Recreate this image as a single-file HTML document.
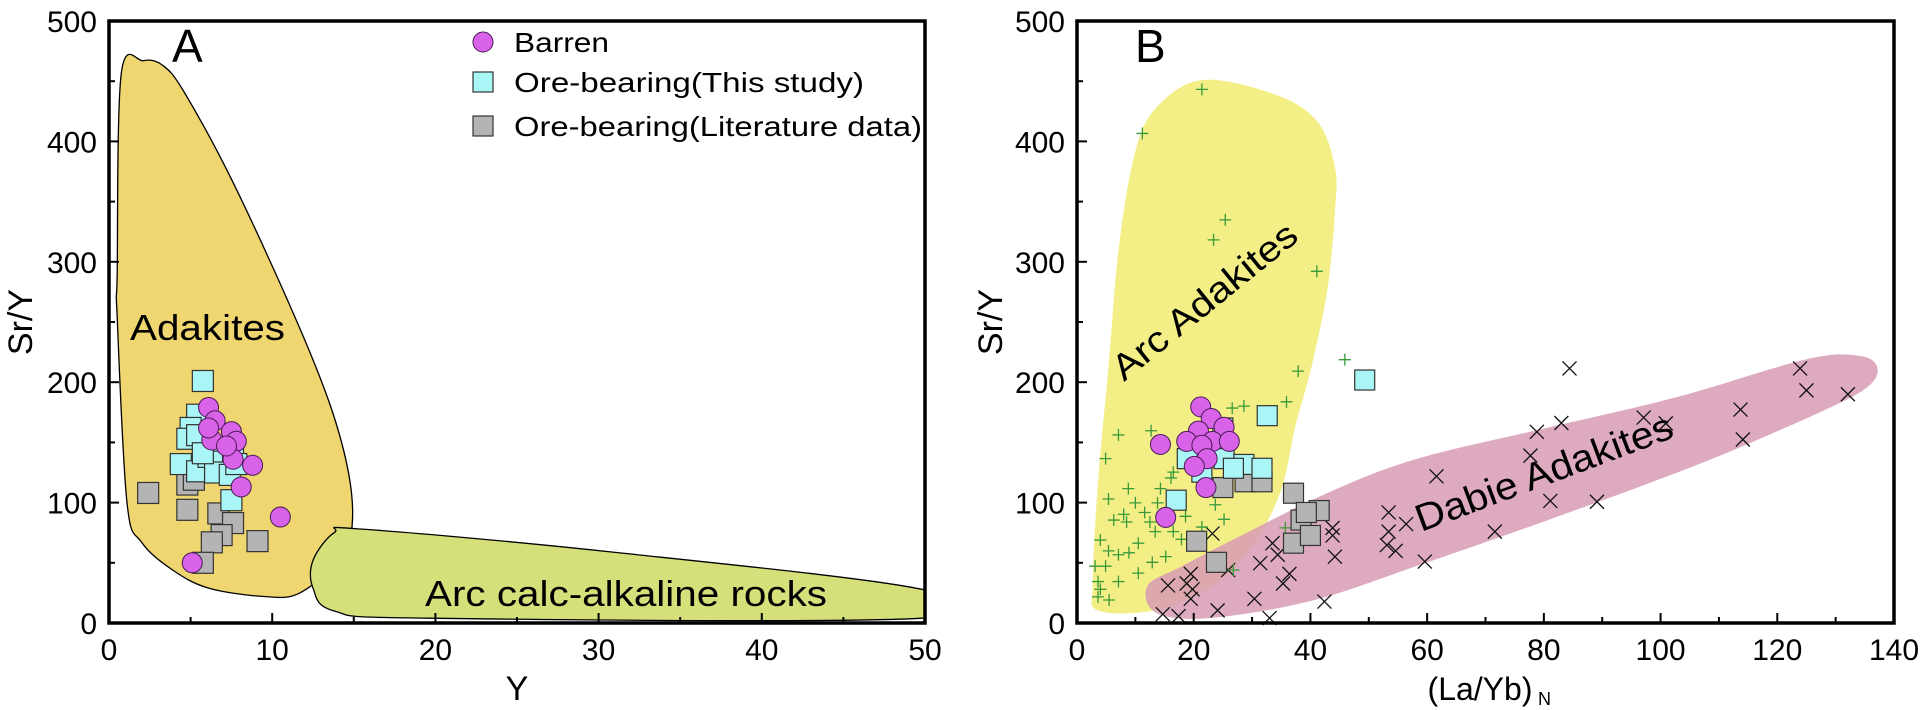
<!DOCTYPE html>
<html><head><meta charset="utf-8"><style>
html,body{margin:0;padding:0;background:#fff;}
svg{display:block;font-family:"Liberation Sans",sans-serif;}
</style></head><body>
<svg id="fig" width="1923" height="710" viewBox="0 0 1923 710" xmlns="http://www.w3.org/2000/svg">
<g id="pA"></g>
<g id="pB"></g>
</svg>
<script>
// ---------- Panel A data ----------
const aXTicks = [0,10,20,30,40,50];
const aYTicks = [0,100,200,300,400,500];
const aBarrenX = [6.1,6.5,7.5,7.8,6.3,7.6,8.8,8.1,10.5,5.1,6.1,7.2];
const aBarrenY = [179,168,159,151,152,136,131,113,88,50,162,147];
const aCyanX = [5.75,5.4,5.0,4.8,5.4,4.4,5.4,6.1,6.9,7.6,6.5,7.4,7.5,5.75,7.8];
const aCyanY = [201,173,162,153,156,132,126,138,134,141,125,123,102,141,132];
const aGrayX = [2.4,4.8,4.8,6.7,7.6,6.9,6.3,9.1,5.75,5.2];
const aGrayY = [108,115,94,91,83,73,67,68,50,119];
const aAdakX = [0.75,2.1,3.3,4.6,7.6,11.4,13.6,14.7,14.9,14.3,11.7,9.5,6.1,3.9,2.0,1.1,0.5,0.5];
const aAdakY = [456,467,463,441,366,254,179,123,82,55,25,22,29,44,67,100,254,291];
const aArcX = [13.8,15.5,30.8,49.8,49.8,19.6,13.8,12.5,12.5];
const aArcY = [75,78,59,28,4,4,10,29,52];
// ---------- Panel B data ----------
const bXTicks = [0,20,40,60,80,100,120,140];
const bYTicks = [0,100,200,300,400,500];
const bBarrenX = [21.2,23.0,25.2,20.8,18.8,14.3,23.2,26.1,21.4,22.3,20.1,22.1,15.2];
const bBarrenY = [179.5,169.9,162.6,159.4,150.8,148.3,150.8,150.8,147.6,136.5,130.1,112.5,87.7];
const bCyanX = [49.3,32.6,25.0,18.9,25.2,28.6,26.8,31.7,21.4,17.0];
const bCyanY = [201.8,172.2,162.0,136.5,136.5,131.7,128.5,128.5,125.3,102.0];
const bGrayX = [20.5,23.9,25.0,28.8,31.7,37.1,41.5,38.4,37.1,40.0,39.3];
const bGrayY = [67.9,50.4,112.5,117.3,117.3,107.8,93.4,85.5,66.3,72.7,91.8];
const bPlusX = [21.4,11.2,25.4,23.4,41.1,45.9,37.9,35.9,28.6,26.6,12.7,7.1,4.9,16.1,8.8,14.3,5.4,10.0,13.8,23.7,8.0,11.6,6.3,8.5,12.5,25.2,18.6,21.4,13.4,16.5,4.0,10.5,5.4,7.1,8.9,15.2,4.9,3.1,12.9,10.5,7.1,3.6,4.0,3.6,5.5,26.8,35.7,16.5,17.9];
const bPlusY = [443.2,406.6,334.8,318.2,292.1,218.7,209.2,183.7,180.1,178.5,159.7,156.2,136.5,120.5,111.6,111.6,103.0,99.8,99.8,98.2,90.2,91.8,85.5,83.9,83.9,86.1,88.6,79.7,75.9,75.9,68.9,66.3,59.9,56.7,58.3,55.1,47.2,47.2,50.4,41.4,34.4,34.4,28.0,21.7,19.1,44.0,79.0,125.3,69.5];
const bCrossX = [84.4,123.9,125.0,132.1,113.7,97.1,100.9,83.0,78.8,77.7,114.1,61.6,81.1,89.1,53.4,56.4,53.4,71.6,43.8,53.1,54.6,44.2,59.6,33.5,34.4,31.4,36.4,35.3,25.9,23.2,19.5,18.8,19.8,15.6,19.5,30.4,42.4,24.1,17.4,14.7,33.0,43.8];
const bCrossY = [211.4,211.4,193.2,190.0,177.3,170.6,165.8,166.1,158.8,139.0,152.4,121.8,101.4,100.7,91.8,82.2,75.9,75.9,72.7,64.7,59.9,55.1,51.0,66.3,56.7,49.7,40.8,32.8,44.0,74.3,40.8,32.8,28.0,31.2,20.1,20.1,17.8,10.5,5.7,7.3,4.1,79.0];
const bArcX = [21.4,33.9,41.1,44.2,44.2,42.9,40.2,37.5,34.8,29.5,22.3,13.4,3.6,2.7,3.6,5.4,7.1,9.8,13.4];
const bArcY = [451,439,417,379,341,277,213,165,108,60,28,10.5,10.5,34,117,213,309,388,427];
const bDabX = [133.9,137.1,135.7,128.6,107.1,80.4,58.0,40.2,22.3,13.4,12.1,17.9,29.5,42.9,58.0,80.4,102.7,125];
const bDabY = [222,213,197,178,133,85,47,18.4,4,9,31,47,76,108,136,162,187.5,219];

const NS = "http://www.w3.org/2000/svg";
function mk(parent, tag, attrs, text){
  const e = document.createElementNS(NS, tag);
  for (const k in attrs) e.setAttribute(k, attrs[k]);
  if (text !== undefined) e.textContent = text;
  parent.appendChild(e);
  return e;
}
function smoothPath(pts){
  const n = pts.length; let d = "M"+pts[0][0].toFixed(1)+","+pts[0][1].toFixed(1);
  for (let i=0;i<n;i++){
    const p0=pts[(i-1+n)%n], p1=pts[i], p2=pts[(i+1)%n], p3=pts[(i+2)%n];
    const c1=[p1[0]+(p2[0]-p0[0])/6, p1[1]+(p2[1]-p0[1])/6];
    const c2=[p2[0]-(p3[0]-p1[0])/6, p2[1]-(p3[1]-p1[1])/6];
    d+=" C"+c1[0].toFixed(1)+","+c1[1].toFixed(1)+" "+c2[0].toFixed(1)+","+c2[1].toFixed(1)+" "+p2[0].toFixed(1)+","+p2[1].toFixed(1);
  }
  return d+"Z";
}

function axes(g, L, R, T, B, xMin, xMax, yMax, xT, yT, xMinor, yMinor){
  const sx = v => L + (v - xMin)/(xMax - xMin)*(R - L);
  const sy = v => B - v/yMax*(B - T);
  return {sx, sy, draw(){
    const ax = mk(g,"g",{});
    
    
    for (let v=xMin; v<=xMax+1e-9; v+=xMinor){
      const major = xT.some(t=>Math.abs(t-v)<1e-6);
      const t = mk(ax,"line",{x1:sx(v),x2:sx(v),y1:B,y2:B-(major?10:6),stroke:"#000","stroke-width":2});
      
      
    }
    for (let v=0; v<=yMax+1e-9; v+=yMinor){
      const major = yT.some(t=>Math.abs(t-v)<1e-6);
      const t = mk(ax,"line",{x1:L,x2:L+(major?10:6),y1:sy(v),y2:sy(v),stroke:"#000","stroke-width":2});
      
      
    }
    xT.forEach(v=>{
      const t = mk(ax,"text",{x:sx(v),y:B+37,"font-size":30,"text-anchor":"middle"}, String(v));
      
      
    });
    yT.forEach(v=>{
      const t = mk(ax,"text",{x:L-12,y:sy(v)+11,"font-size":30,"text-anchor":"end"}, String(v));
      
      
    });
    const fr = mk(ax,"rect",{x:L,y:T,width:R-L,height:B-T,fill:"none",stroke:"#000","stroke-width":3.5});
    
    
  }};
}
function circles(g, xs, ys, sx, sy, name){
  xs.forEach((x,i)=>{
    const c = mk(g,"circle",{cx:sx(x),cy:sy(ys[i]),r:10,fill:"#d862e8",stroke:"#4a1a55","stroke-width":1});
    
    
  });
}
function squares(g, xs, ys, sx, sy, fill, name, s){
  xs.forEach((x,i)=>{
    const r = mk(g,"rect",{x:sx(x)-s/2,y:sy(ys[i])-s/2,width:s,height:s,fill:fill,stroke:"#333","stroke-width":1.2});
    
    
  });
}

// ---------- Panel A ----------
(function(){
  const g = document.getElementById("pA");
  const A = axes(g,109,925,21,623,0,50,500,aXTicks,aYTicks,5,50);
  const {sx, sy} = A;
  const clip = mk(g,"clipPath",{id:"clipA"}); mk(clip,"rect",{x:109,y:21,width:816,height:602});
  const reg = mk(g,"g",{"clip-path":"url(#clipA)"});
  const ad = mk(reg,"path",{d:smoothPath(aAdakX.map((x,i)=>[sx(x),sy(aAdakY[i])])),fill:"#efd670",stroke:"#000","stroke-width":1.3});
  
  
  const ar = mk(reg,"path",{d:smoothPath(aArcX.map((x,i)=>[sx(x),sy(aArcY[i])])),fill:"#d5e07a",stroke:"#000","stroke-width":1.3});
  
  
  const t1 = mk(g,"text",{x:130,y:340,"font-size":36,textLength:155,lengthAdjust:"spacingAndGlyphs"},"Adakites");
  
  
  const t2 = mk(g,"text",{x:425,y:606,"font-size":36,textLength:402,lengthAdjust:"spacingAndGlyphs"},"Arc calc-alkaline rocks");
  
  
  squares(g,aGrayX,aGrayY,sx,sy,"#b4b4b4","ore-bearing-literature-point",21);
  squares(g,aCyanX,aCyanY,sx,sy,"#aaf5f5","ore-bearing-this-study-point",21);
  circles(g,aBarrenX,aBarrenY,sx,sy,"barren-point");
  A.draw();
  const pl = mk(g,"text",{x:172,y:62,"font-size":46},"A");
  
  
  const xt = mk(g,"text",{x:517,y:700,"font-size":34,"text-anchor":"middle"},"Y");
  
  
  const yt = mk(g,"text",{x:0,y:0,"font-size":34,"text-anchor":"middle",transform:"translate(32,322) rotate(-90)"},"Sr/Y");
  
  
  // legend
  const lg = mk(g,"g",{});
  
  
  const e1 = mk(lg,"circle",{cx:483,cy:42,r:10,fill:"#d862e8",stroke:"#4a1a55","stroke-width":1});
  
  
  const e2 = mk(lg,"rect",{x:473,y:72,width:20,height:20,fill:"#aaf5f5",stroke:"#333","stroke-width":1.2});
  
  
  const e3 = mk(lg,"rect",{x:473,y:116,width:20,height:20,fill:"#b4b4b4",stroke:"#333","stroke-width":1.2});
  
  
  const l1 = mk(lg,"text",{x:514,y:52,"font-size":28,textLength:95,lengthAdjust:"spacingAndGlyphs"},"Barren");
  
  
  const l2 = mk(lg,"text",{x:514,y:92,"font-size":28,textLength:350,lengthAdjust:"spacingAndGlyphs"},"Ore-bearing(This study)");
  
  
  const l3 = mk(lg,"text",{x:514,y:136,"font-size":28,textLength:408,lengthAdjust:"spacingAndGlyphs"},"Ore-bearing(Literature data)");
  
  
})();

// ---------- Panel B ----------
(function(){
  const g = document.getElementById("pB");
  const A = axes(g,1077,1894,21,623,0,140,500,bXTicks,bYTicks,10,50);
  const {sx, sy} = A;
  const ya = mk(g,"path",{d:smoothPath(bArcX.map((x,i)=>[sx(x),sy(bArcY[i])])),fill:"#f2ee80","fill-opacity":0.95});
  
  
  const pk = mk(g,"path",{d:smoothPath(bDabX.map((x,i)=>[sx(x),sy(bDabY[i])])),fill:"#d79bb5","fill-opacity":0.85});
  
  
  const t1 = mk(g,"text",{x:0,y:0,"font-size":36,textLength:227,lengthAdjust:"spacingAndGlyphs",transform:"translate(1124,382) rotate(-39)"},"Arc Adakites");
  
  
  const t2 = mk(g,"text",{x:0,y:0,"font-size":38,textLength:272,lengthAdjust:"spacingAndGlyphs",transform:"translate(1421,532) rotate(-20.5)"},"Dabie Adakites");
  
  
  bCrossX.forEach((x,i)=>{
    const cx=sx(x), cy=sy(bCrossY[i]), s=7;
    const p = mk(g,"path",{d:`M${cx-s},${cy-s}L${cx+s},${cy+s}M${cx-s},${cy+s}L${cx+s},${cy-s}`,stroke:"#111","stroke-width":1.3,fill:"none"});
    
    
  });
  bPlusX.forEach((x,i)=>{
    const cx=sx(x), cy=sy(bPlusY[i]), s=6;
    const p = mk(g,"path",{d:`M${cx-s},${cy}L${cx+s},${cy}M${cx},${cy-s}L${cx},${cy+s}`,stroke:"#3a9a3a","stroke-width":1.3,fill:"none"});
    
    
  });
  squares(g,bGrayX,bGrayY,sx,sy,"#b4b4b4","ore-bearing-literature-point",20);
  squares(g,bCyanX,bCyanY,sx,sy,"#aaf5f5","ore-bearing-this-study-point",20);
  circles(g,bBarrenX,bBarrenY,sx,sy,"barren-point");
  A.draw();
  const pl = mk(g,"text",{x:1135,y:62,"font-size":46},"B");
  
  
  const xt = mk(g,"text",{x:1480,y:700,"font-size":32,"text-anchor":"middle"},"(La/Yb)");
  
  
  const xs = mk(g,"text",{x:1538,y:705,"font-size":18},"N");
  
  
  const yt = mk(g,"text",{x:0,y:0,"font-size":34,"text-anchor":"middle",transform:"translate(1002,322) rotate(-90)"},"Sr/Y");
  
  
})();
</script>
</body></html>
